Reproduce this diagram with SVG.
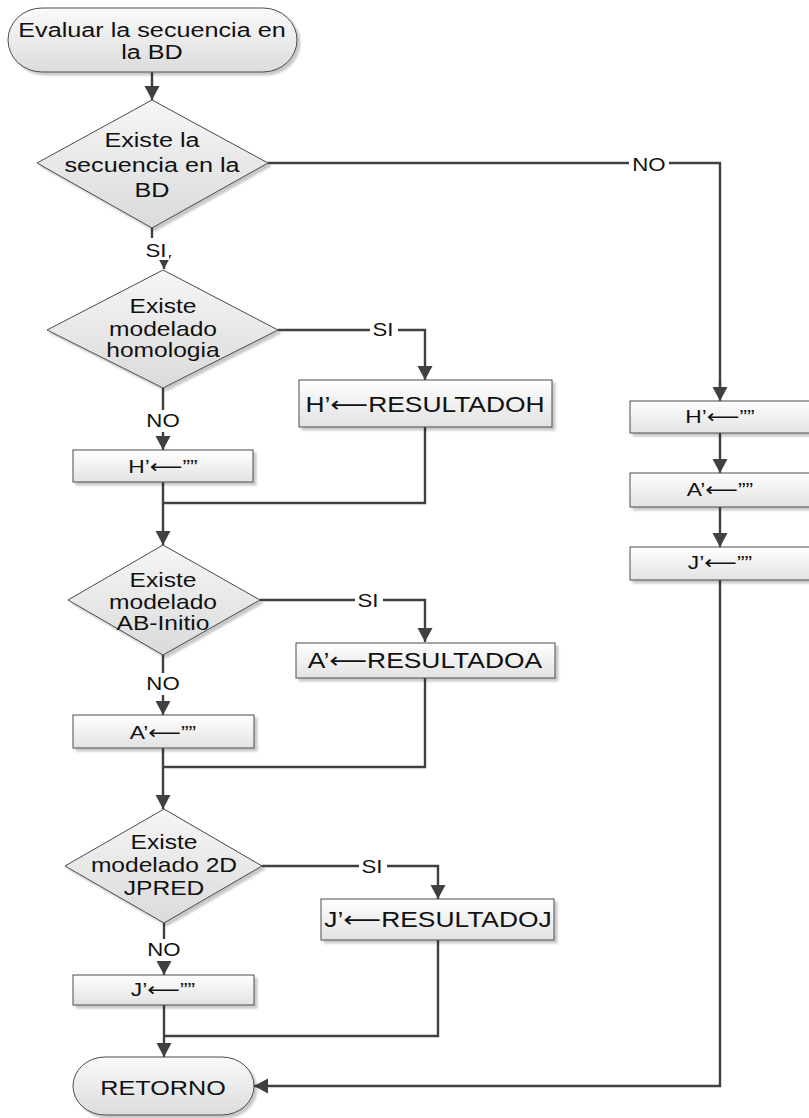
<svg xmlns="http://www.w3.org/2000/svg" width="809" height="1118" viewBox="0 0 809 1118">
  <style>
    text { font-family: "Liberation Sans", Arial, sans-serif; fill: #111; text-anchor: middle;
           transform-box: fill-box; transform-origin: center; transform: scaleX(1.2); }
    .t { font-size: 21px; }
    .d { font-size: 20.5px; }
    .b { font-size: 22px; }
    .s { font-size: 19px; }
    .lbl { font-size: 18.5px; }
    .ar { font-family: "DejaVu Sans", sans-serif; }
    .shape { stroke: #4a4a4a; stroke-width: 1; }
    .term { fill: url(#gTerm); }
    .dec { fill: url(#gDec); }
    .proc { fill: url(#gProc); }
    .wire { fill: none; stroke: #404040; stroke-width: 2.4; }
    .arrow { marker-end: url(#arr); }
    .lblbg { fill: #fff; }
  </style>
  <defs>
    <linearGradient id="gTerm" x1="0" y1="0" x2="0" y2="1">
      <stop offset="0" stop-color="#fafafa"/>
      <stop offset="1" stop-color="#dcdcdc"/>
    </linearGradient>
    <linearGradient id="gDec" x1="0" y1="0" x2="0" y2="1">
      <stop offset="0" stop-color="#f6f6f6"/>
      <stop offset="1" stop-color="#dadada"/>
    </linearGradient>
    <linearGradient id="gProc" x1="0" y1="0" x2="0" y2="1">
      <stop offset="0" stop-color="#ffffff"/>
      <stop offset="1" stop-color="#e2e2e2"/>
    </linearGradient>
    <filter id="shadow" x="-10%" y="-10%" width="130%" height="140%">
      <feOffset in="SourceAlpha" dx="3" dy="3" result="off"/>
      <feGaussianBlur in="off" stdDeviation="1.2" result="blur"/>
      <feComponentTransfer in="blur" result="sh">
        <feFuncA type="linear" slope="0.22"/>
      </feComponentTransfer>
      <feMerge>
        <feMergeNode in="sh"/>
        <feMergeNode in="SourceGraphic"/>
      </feMerge>
    </filter>
    <marker id="arr" markerWidth="16" markerHeight="16" refX="14" refY="8" orient="auto" markerUnits="userSpaceOnUse">
      <path d="M0,0.5 L14,8 L0,15.5 z" fill="#404040"/>
    </marker>
  </defs>

  <!-- connectors -->
  <g id="connectors">
    <path class="wire arrow" d="M152,72 V100"/>
    <path class="wire arrow" d="M152,228 V250 H164 V269"/>
    <path class="wire" d="M268,163 H720 V389"/>
    <path class="wire arrow" d="M720,380 V401"/>
    <path class="wire arrow" d="M278,330 H425 V380"/>
    <path class="wire arrow" d="M163,388 V450"/>
    <path class="wire" d="M425,427 V503 H163"/>
    <path class="wire arrow" d="M163,482 V545"/>
    <path class="wire arrow" d="M260,600 H425 V642"/>
    <path class="wire arrow" d="M163,655 V715"/>
    <path class="wire" d="M425,678 V767 H163"/>
    <path class="wire arrow" d="M163,748 V809"/>
    <path class="wire arrow" d="M262,866 H438 V899"/>
    <path class="wire arrow" d="M164,923 V975"/>
    <path class="wire" d="M438,940 V1036 H164"/>
    <path class="wire arrow" d="M164,1005 V1057"/>
    <path class="wire arrow" d="M720,433 V473"/>
    <path class="wire arrow" d="M720,507 V547"/>
    <path class="wire arrow" d="M720,580 V1086 H254"/>

    <!-- branch labels -->
    <rect class="lblbg" x="143" y="238" width="26" height="22"/>
    <text class="lbl" x="156" y="257">SI</text>
    <rect class="lblbg" x="629" y="153" width="40" height="20"/>
    <text class="lbl" x="649" y="171">NO</text>
    <rect class="lblbg" x="370" y="320" width="28" height="20"/>
    <text class="lbl" x="383" y="336">SI</text>
    <rect class="lblbg" x="143" y="410" width="40" height="22"/>
    <text class="lbl" x="163" y="427">NO</text>
    <rect class="lblbg" x="355" y="590" width="28" height="20"/>
    <text class="lbl" x="368" y="607">SI</text>
    <rect class="lblbg" x="143" y="673" width="40" height="22"/>
    <text class="lbl" x="163" y="690">NO</text>
    <rect class="lblbg" x="359" y="856" width="28" height="20"/>
    <text class="lbl" x="372" y="873">SI</text>
    <rect class="lblbg" x="144" y="939" width="40" height="22"/>
    <text class="lbl" x="164" y="956">NO</text>
  </g>

  <!-- start terminal -->
  <g id="start">
    <rect class="shape term" x="8" y="8" width="289" height="64" rx="34" ry="32" filter="url(#shadow)"/>
    <text class="t" x="152" y="37">Evaluar la secuencia en</text>
    <text class="t" x="152" y="59">la BD</text>
  </g>

  <!-- decision: sequence in DB -->
  <g id="dec-bd">
    <polygon class="shape dec" points="152,100 268,163 152,228 37,163" filter="url(#shadow)"/>
    <text class="t" x="152" y="147">Existe la</text>
    <text class="t" x="152" y="172">secuencia en la</text>
    <text class="t" x="152" y="197">BD</text>
  </g>

  <!-- decision: homology model -->
  <g id="dec-homologia">
    <polygon class="shape dec" points="163,270 278,330 163,388 47,330" filter="url(#shadow)"/>
    <text class="d" x="163" y="313">Existe</text>
    <text class="d" x="163" y="336">modelado</text>
    <text class="d" x="163" y="357">homologia</text>
  </g>

  <g id="proc-h-res">
    <rect class="shape proc" x="299" y="380" width="253" height="47" filter="url(#shadow)"/>
    <text class="b" x="425" y="412">H’<tspan class="ar">⟵</tspan>RESULTADOH</text>
  </g>

  <g id="proc-h-empty">
    <rect class="shape proc" x="73" y="450" width="180" height="32" filter="url(#shadow)"/>
    <text class="s" x="163" y="473">H’<tspan class="ar">⟵</tspan>””</text>
  </g>

  <!-- decision: ab-initio model -->
  <g id="dec-abinitio">
    <polygon class="shape dec" points="163,545 260,600 163,655 68,600" filter="url(#shadow)"/>
    <text class="d" x="163" y="587">Existe</text>
    <text class="d" x="163" y="609">modelado</text>
    <text class="d" x="163" y="630">AB-Initio</text>
  </g>

  <g id="proc-a-res">
    <rect class="shape proc" x="296" y="643" width="259" height="35" filter="url(#shadow)"/>
    <text class="b" x="425" y="668">A’<tspan class="ar">⟵</tspan>RESULTADOA</text>
  </g>

  <g id="proc-a-empty">
    <rect class="shape proc" x="73" y="715" width="181" height="33" filter="url(#shadow)"/>
    <text class="s" x="163" y="739">A’<tspan class="ar">⟵</tspan>””</text>
  </g>

  <!-- decision: 2D JPRED model -->
  <g id="dec-jpred">
    <polygon class="shape dec" points="164,809 262,866 164,923 65,866" filter="url(#shadow)"/>
    <text class="d" x="164" y="849">Existe</text>
    <text class="d" x="164" y="872">modelado 2D</text>
    <text class="d" x="164" y="895">JPRED</text>
  </g>

  <g id="proc-j-res">
    <rect class="shape proc" x="321" y="899" width="233" height="41" filter="url(#shadow)"/>
    <text class="b" x="438" y="927">J’<tspan class="ar">⟵</tspan>RESULTADOJ</text>
  </g>

  <g id="proc-j-empty">
    <rect class="shape proc" x="73" y="975" width="181" height="30" filter="url(#shadow)"/>
    <text class="s" x="163" y="996">J’<tspan class="ar">⟵</tspan>””</text>
  </g>

  <!-- right column: sequence not found -->
  <g id="proc-h-none">
    <rect class="shape proc" x="630" y="401" width="180" height="32" filter="url(#shadow)"/>
    <text class="s" x="720" y="423">H’<tspan class="ar">⟵</tspan>””</text>
  </g>
  <g id="proc-a-none">
    <rect class="shape proc" x="630" y="473" width="180" height="34" filter="url(#shadow)"/>
    <text class="s" x="720" y="496">A’<tspan class="ar">⟵</tspan>””</text>
  </g>
  <g id="proc-j-none">
    <rect class="shape proc" x="630" y="547" width="180" height="33" filter="url(#shadow)"/>
    <text class="s" x="720" y="569">J’<tspan class="ar">⟵</tspan>””</text>
  </g>

  <!-- end terminal -->
  <g id="end">
    <rect class="shape term" x="73" y="1057" width="181" height="58" rx="32" ry="29" filter="url(#shadow)"/>
    <text class="t" x="163" y="1095">RETORNO</text>
  </g>
</svg>
